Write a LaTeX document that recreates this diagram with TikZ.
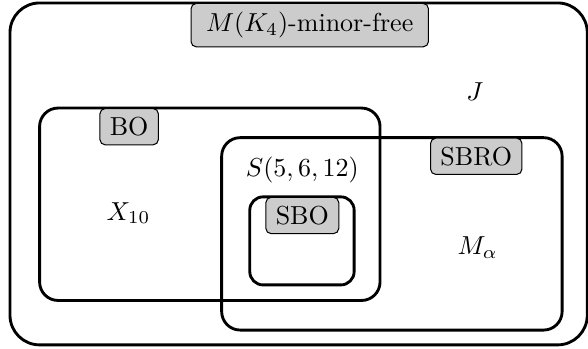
\documentclass[tikz,border=0pt]{standalone}
\usepackage{amsmath}
\usepackage{tikz}
\usetikzlibrary{positioning}

\begin{document}
\begin{tikzpicture}[
  region/.style={draw,line width=1.1pt},
  tag/.style={draw,fill=gray!40,rounded corners=2pt,inner xsep=3.8pt,anchor=north}]
\useasboundingbox (-0.135,-0.055) rectangle (7.81,4.66);

% M(K4)-minor-free (outer)
\draw[region,rounded corners=0.4cm] (0,0) rectangle (7.8,4.62);
\node[tag,inner xsep=5.8pt] (minorfree) at (4.05,4.62) {$M(K_4)$-minor-free};
\node (J) at (6.28,3.42) {$J$};

% BO
\draw[region,rounded corners=0.25cm] (0.4,0.6) rectangle (5.0,3.2);
\node[tag] (BO) at (1.61,3.2) {BO};
\node (X10) at (1.6,1.78) {$X_{10}$};

% SBRO
\draw[region,rounded corners=0.25cm] (2.86,0.2) rectangle (7.46,2.8);
\node[tag] (SBRO) at (6.3,2.8) {SBRO};
\node (Malpha) at (6.32,1.32) {$M_\alpha$};
\node (S5612) at (3.95,2.36) {$S(5,6,12)$};

% SBO
\draw[region,rounded corners=0.18cm] (3.24,0.81) rectangle (4.65,2.0);
\node[tag] (SBO) at (3.95,2.0) {SBO};
\end{tikzpicture}
\end{document}
